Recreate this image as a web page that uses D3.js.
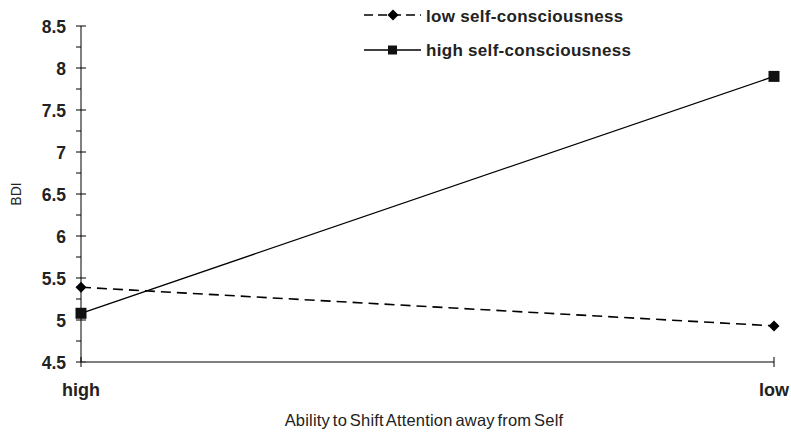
<!DOCTYPE html>
<html><head><meta charset="utf-8">
<script src="https://cdn.jsdelivr.net/npm/d3@7"></script>
<style>body{margin:0;background:#fff}svg{display:block}text{font-family:"Liberation Sans",Arial,sans-serif;fill:#222}</style>
</head><body>
<svg id="c" width="791" height="434"></svg>
<script>
const categories = ["high", "low"];
const lowSC = [5.39, 4.93];
const highSC = [5.08, 7.9];
const yTicks = [4.5, 5, 5.5, 6, 6.5, 7, 7.5, 8, 8.5];
const seriesNames = ["low self-consciousness", "high self-consciousness"];

const svg = d3.select("#c");
const x = d3.scalePoint().domain(categories).range([81, 774]);
const y = d3.scaleLinear().domain([4.5, 8.5]).range([362, 26]);

// y axis
const ya = svg.append("g").attr("transform", "translate(81,0)");
ya.append("line").attr("y1", y(4.5)).attr("y2", y(8.5)).attr("stroke", "#000");
const minor = d3.range(4.75, 8.5, 0.5);
ya.selectAll(".mn").data(minor).join("line").attr("x1", -5).attr("x2", 0)
  .attr("y1", d => y(d)).attr("y2", d => y(d)).attr("stroke", "#000");
ya.selectAll(".mj").data(yTicks).join("line").attr("x1", -5).attr("x2", 5)
  .attr("y1", d => y(d)).attr("y2", d => y(d)).attr("stroke", "#000");
ya.selectAll(".tl").data(yTicks).join("text").attr("x", -15).attr("y", d => y(d) + 6.5)
  .attr("text-anchor", "end").attr("font-size", 17.5).attr("font-weight", "bold").text(d => d);

// x axis
const xa = svg.append("g");
xa.append("line").attr("x1", x("high")).attr("x2", x("low")).attr("y1", y(4.5)).attr("y2", y(4.5)).attr("stroke", "#555").attr("stroke-width", 1.4);
xa.selectAll(".xt").data(categories).join("line").attr("x1", d => x(d)).attr("x2", d => x(d))
  .attr("y1", y(4.5) - 5).attr("y2", y(4.5) + 5).attr("stroke", "#000");
xa.selectAll(".xl").data(categories).join("text").attr("x", d => x(d)).attr("y", 396)
  .attr("text-anchor", "middle").attr("font-size", 18).attr("font-weight", "bold").text(d => d);

svg.append("text").attr("x", 424).attr("y", 426).attr("text-anchor", "middle").attr("font-size", 16.5).attr("letter-spacing", 0.2).attr("word-spacing", -2).text("Ability to Shift Attention away from Self");
svg.append("text").attr("transform", "translate(21,194) rotate(-90)").attr("text-anchor", "middle").attr("font-size", 14).text("BDI");

const line = d3.line().x((d, i) => x(categories[i])).y(d => y(d));
svg.append("path").datum(lowSC).attr("d", line).attr("fill", "none").attr("stroke", "#000").attr("stroke-width", 1.6).attr("stroke-dasharray", "10,6");
svg.append("path").datum(highSC).attr("d", line).attr("fill", "none").attr("stroke", "#000").attr("stroke-width", 1.3);

const diamond = "M0,-5.5L5.5,0L0,5.5L-5.5,0Z";
svg.selectAll(".dm").data(lowSC).join("path").attr("d", diamond)
  .attr("transform", (d, i) => `translate(${x(categories[i])},${y(d)})`).attr("fill", "#000");
svg.selectAll(".sq").data(highSC).join("rect")
  .attr("x", (d, i) => x(categories[i]) - 5.5).attr("y", d => y(d) - 5.5).attr("width", 11).attr("height", 11).attr("fill", "#111");

// legend
const lg = svg.append("g");
lg.append("line").attr("x1", 364).attr("x2", 421).attr("y1", 15).attr("y2", 15).attr("stroke", "#000").attr("stroke-width", 1.6).attr("stroke-dasharray", "9,5");
lg.append("path").attr("d", diamond).attr("transform", "translate(393,15)").attr("fill", "#000");
lg.append("text").attr("x", 426).attr("y", 22).attr("font-size", 17).attr("letter-spacing", 0.3).attr("font-weight", "bold").text(seriesNames[0]);
lg.append("line").attr("x1", 364).attr("x2", 421).attr("y1", 50).attr("y2", 50).attr("stroke", "#000").attr("stroke-width", 1.3);
lg.append("rect").attr("x", 388).attr("y", 45.5).attr("width", 9).attr("height", 9).attr("fill", "#111");
lg.append("text").attr("x", 426).attr("y", 56).attr("font-size", 17).attr("letter-spacing", 0.3).attr("font-weight", "bold").text(seriesNames[1]);
</script>
</body></html>
